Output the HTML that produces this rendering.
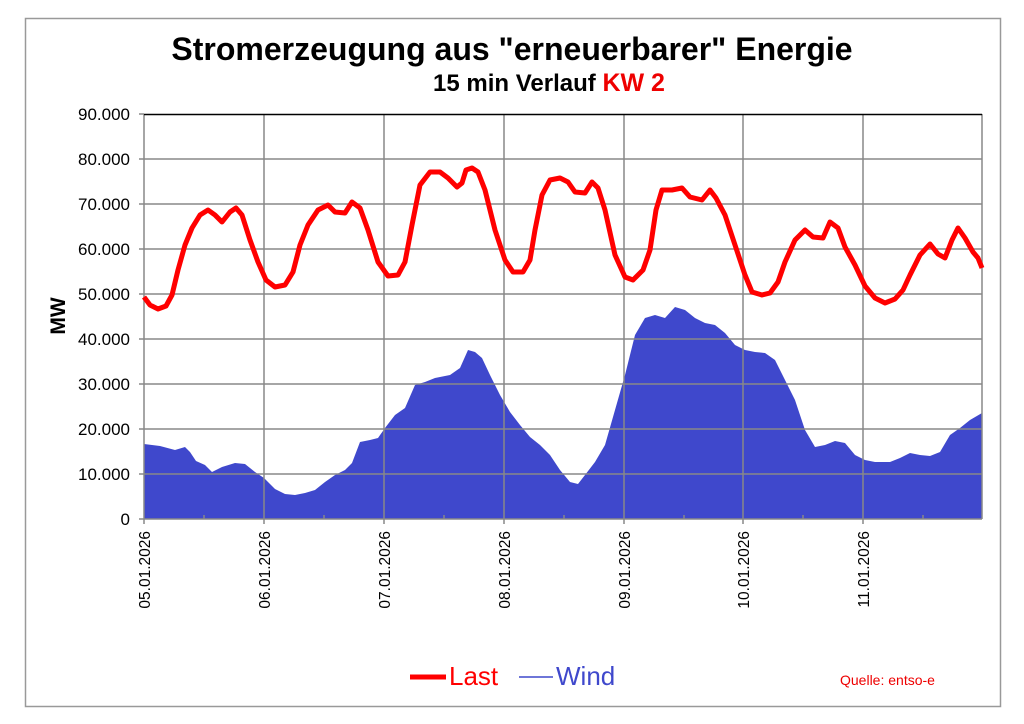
<!DOCTYPE html>
<html><head><meta charset="utf-8"><style>
body{margin:0;background:#fff}
svg{display:block;font-family:"Liberation Sans",Arial,sans-serif}
</style></head><body>
<svg width="1024" height="724" viewBox="0 0 1024 724">
<rect x="0" y="0" width="1024" height="724" fill="#fff"/>
<rect x="25.5" y="18.5" width="975" height="688" fill="none" stroke="#999" stroke-width="1.5"/>
<text x="512" y="60" text-anchor="middle" font-size="32" font-weight="bold">Stromerzeugung aus "erneuerbarer" Energie</text>
<text x="549" y="91" text-anchor="middle" font-size="24" font-weight="bold">15 min Verlauf <tspan fill="#e00" font-size="25">KW 2</tspan></text>
<text transform="translate(65,316) rotate(-90)" text-anchor="middle" font-size="21" font-weight="bold">MW</text>
<polygon fill="#3f48cc" points="144,519 144,444 160,446 175,450 185,447 190,452 196,461 205,465 212,472 222,467 235,463 245,464 255,472 264,478 275,489 285,494 295,495 305,493 315,490 325,482 335,475 345,470 352,463 360,442 370,440 378,438 385,428 395,415 405,408 415,385 425,382 435,378 450,375 460,368 468,350 475,352 482,358 490,375 500,395 510,412 520,425 530,437 540,445 550,455 560,470 570,482 578,484 585,475 595,462 605,445 615,410 625,375 635,335 645,318 655,315 665,318 675,307 685,310 695,318 705,323 715,325 725,333 735,345 745,350 755,352 765,353 775,360 785,380 795,400 805,430 815,447 825,445 835,441 845,443 855,455 865,460 875,462 890,462 900,458 910,453 920,455 930,456 940,452 950,435 960,428 970,420 982,413 982,519"/>
<g stroke="#888" stroke-width="1.5" fill="none">
<path d="M144,159H982M144,204H982M144,249H982M144,294H982M144,339H982M144,384H982M144,429H982M144,474H982"/>
<path d="M264,114V519M384,114V519M504,114V519M624,114V519M743,114V519M863,114V519M982,114V519"/>
<path d="M144,114V524M139,519H982M139,114H144M139,159H144M139,204H144M139,249H144M139,294H144M139,339H144M139,384H144M139,429H144M139,474H144"/>
<path d="M204,519v-4M324,519v-4M444,519v-4M564,519v-4M684,519v-4M803,519v-4M923,519v-4M264,519v5M384,519v5M504,519v5M624,519v5M743,519v5M863,519v5"/>
</g>
<path d="M144,114.5H982" stroke="#000" stroke-width="1.5"/>
<polyline fill="none" stroke="#f00" stroke-width="5" stroke-linejoin="round" points="144,297 150,305 158,309 166,306 172,295 178,270 185,245 192,228 200,215 208,210 215,215 222,222 230,212 236,208 242,215 250,240 258,262 266,280 275,287 285,285 293,272 300,245 308,225 318,210 328,205 335,212 345,213 352,202 360,208 368,230 378,262 388,276 398,275 405,262 412,225 420,185 430,172 440,172 448,178 457,187 462,183 466,170 472,168 478,172 485,190 495,230 505,260 513,272 523,272 530,260 535,230 542,195 550,180 560,178 568,182 575,192 585,193 592,182 598,188 605,210 615,255 625,277 633,280 643,270 650,250 656,210 662,190 672,190 682,188 690,197 702,200 710,190 716,198 725,215 735,245 745,275 752,292 762,295 770,293 778,282 785,262 795,240 805,230 813,237 823,238 830,222 838,228 845,247 855,265 865,286 875,298 885,303 895,299 903,290 910,275 920,255 930,244 938,254 945,258 952,240 958,228 965,238 973,252 978,258 982,268"/>
<g font-size="17" text-anchor="end">
<text x="130" y="120">90.000</text><text x="130" y="165">80.000</text><text x="130" y="210">70.000</text><text x="130" y="255">60.000</text><text x="130" y="300">50.000</text><text x="130" y="345">40.000</text><text x="130" y="390">30.000</text><text x="130" y="435">20.000</text><text x="130" y="480">10.000</text><text x="130" y="525">0</text>
</g>
<g font-size="15.5" text-anchor="end">
<text transform="translate(150,531) rotate(-90)">05.01.2026</text>
<text transform="translate(270,531) rotate(-90)">06.01.2026</text>
<text transform="translate(390,531) rotate(-90)">07.01.2026</text>
<text transform="translate(510,531) rotate(-90)">08.01.2026</text>
<text transform="translate(630,531) rotate(-90)">09.01.2026</text>
<text transform="translate(749,531) rotate(-90)">10.01.2026</text>
<text transform="translate(869,531) rotate(-90)">11.01.2026</text>
</g>
<line x1="410" y1="677" x2="446" y2="677" stroke="#f00" stroke-width="5"/>
<text x="449" y="685" font-size="26" fill="#f00">Last</text>
<line x1="519" y1="677" x2="553" y2="677" stroke="#3f48cc" stroke-width="1.5"/>
<text x="556" y="685" font-size="26" fill="#3f48cc">Wind</text>
<text x="840" y="685" font-size="14" fill="#e00">Quelle: entso-e</text>
</svg>
</body></html>
